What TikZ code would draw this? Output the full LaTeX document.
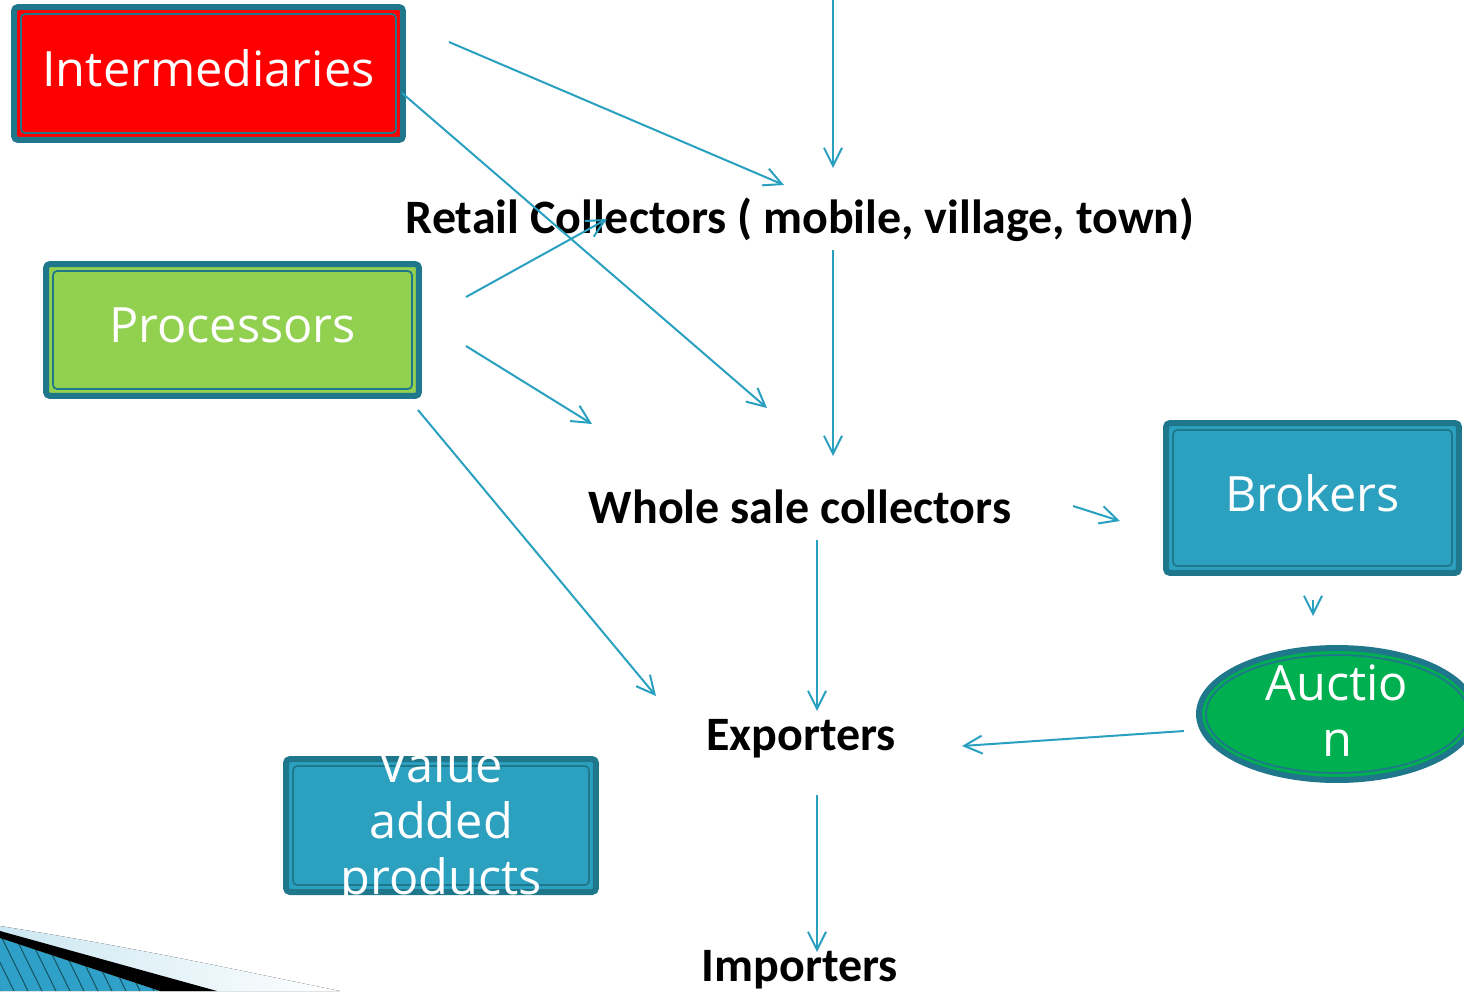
\documentclass[tikz,border=0pt]{standalone}
\usepackage{fontspec}
\setmainfont{Carlito}
\newfontfamily\boxfont{Open Sans}
\usetikzlibrary{arrows.meta}
\usetikzlibrary{shapes.geometric}

\definecolor{rim}{RGB}{31,119,139}
\definecolor{flowline}{RGB}{41,160,192}
\definecolor{interred}{RGB}{255,0,0}
\definecolor{procgreen}{RGB}{146,208,80}
\definecolor{boxblue}{RGB}{44,161,191}
\definecolor{aucgreen}{RGB}{0,176,80}
\definecolor{swoosh}{RGB}{47,160,200}

\begin{document}
\begin{tikzpicture}[x=0.02cm,y=-0.02cm,
    boxtext/.style={text=white, align=center, font=\boxfont\fontsize{27.7}{32}\selectfont, inner sep=0pt},
    box/.style={boxtext, draw=rim, line width=0.12cm, rounded corners=0.08cm, text depth=0.2cm,
      path picture={\draw[rim, line width=0.035cm]
        ([shift={(0.14cm,0.14cm)}]path picture bounding box.south west) rectangle
        ([shift={(-0.14cm,-0.14cm)}]path picture bounding box.north east);}},
    oval/.style={boxtext, ellipse, draw=rim, line width=0.12cm,
      path picture={\draw[rim, line width=0.035cm]
        (path picture bounding box.center) ellipse [x radius=2.62cm, y radius=1.18cm];}},
    stage/.style={font=\bfseries\fontsize{27.3}{30}\selectfont},
    flow/.style={draw=flowline, line width=0.04cm, -{Straight Barb[length=0.36cm,width=0.36cm]}}]
  \useasboundingbox (0,0) rectangle (1464,991);

  % corner swoosh
  \fill[left color=swoosh!25, right color=white] (0,926) .. controls (150,950) and (260,975) .. (340,991) -- (0,991) -- cycle;
  \begin{scope}
    \clip (0,938) -- (160,991) -- (0,991) -- cycle;
    \fill[swoosh] (0,930) rectangle (170,991);
    \foreach \s in {0,14,...,200} \draw[rim!70!black, line width=0.02cm] (\s-30,930) -- (\s,991);
  \end{scope}
  \fill[black] (0,931) -- (217,991) -- (160,991) -- (0,938) -- cycle;

  % the boxes
  \node[box, fill=interred, minimum width=7.78cm, minimum height=2.66cm] (inter) at (208.5,73.5) {Intermediaries};
  \node[box, fill=procgreen, minimum width=7.46cm, minimum height=2.64cm] (proc) at (232.5,330) {Processors};
  \node[box, fill=boxblue, minimum width=5.86cm, minimum height=3cm] (brok) at (1312.5,498) {Brokers};
  \node[box, fill=boxblue, minimum width=6.2cm, minimum height=2.66cm] (vap) at (441,825.5) {};
  \node[boxtext] (vaptext) at (441,826) {Value\\added\\products};
  \node[oval, fill=aucgreen, minimum width=5.52cm, minimum height=2.64cm] (auc) at (1337,714) {};
  \node[boxtext] (auctext) at (1337,711) {Auctio\\n};

  % the chain
  \node[stage] (retail) at (800,220) {Retail Collectors ( mobile, village, town)};
  \node[stage] (whole) at (800,507) {Whole sale collectors};
  \node[stage] (exp) at (801,739) {Exporters};
  \node[stage] (imp) at (800,970) {Importers};

  % arrow ends
  \coordinate (top) at (833,0);
  \coordinate (rtop) at (833,168);
  \coordinate (i1) at (449,42);
  \coordinate (i1e) at (784,185);
  \coordinate (i2) at (402,93);
  \coordinate (i2e) at (767,408);
  \coordinate (p1) at (466,297);
  \coordinate (p1e) at (607,219);
  \coordinate (p2) at (466,346);
  \coordinate (p2e) at (592,424);
  \coordinate (p3) at (418,410);
  \coordinate (p3e) at (656,696);
  \coordinate (r1) at (833,250);
  \coordinate (r1e) at (833,456);
  \coordinate (w1) at (1073,506);
  \coordinate (w1e) at (1120,521);
  \coordinate (b1) at (1313,600);
  \coordinate (b1e) at (1313,616);
  \coordinate (w2) at (817,540);
  \coordinate (w2e) at (817,711);
  \coordinate (a1) at (1184,731);
  \coordinate (a1e) at (962,746);
  \coordinate (e1) at (817,795);
  \coordinate (e1e) at (817,952);

  % arrows
  \foreach \f/\t in {top/rtop, i1/i1e, i2/i2e, p1/p1e, p2/p2e, p3/p3e, r1/r1e, w1/w1e, b1/b1e, w2/w2e, a1/a1e, e1/e1e}
    \draw[flow] (\f) -- (\t);
\end{tikzpicture}
\end{document}
